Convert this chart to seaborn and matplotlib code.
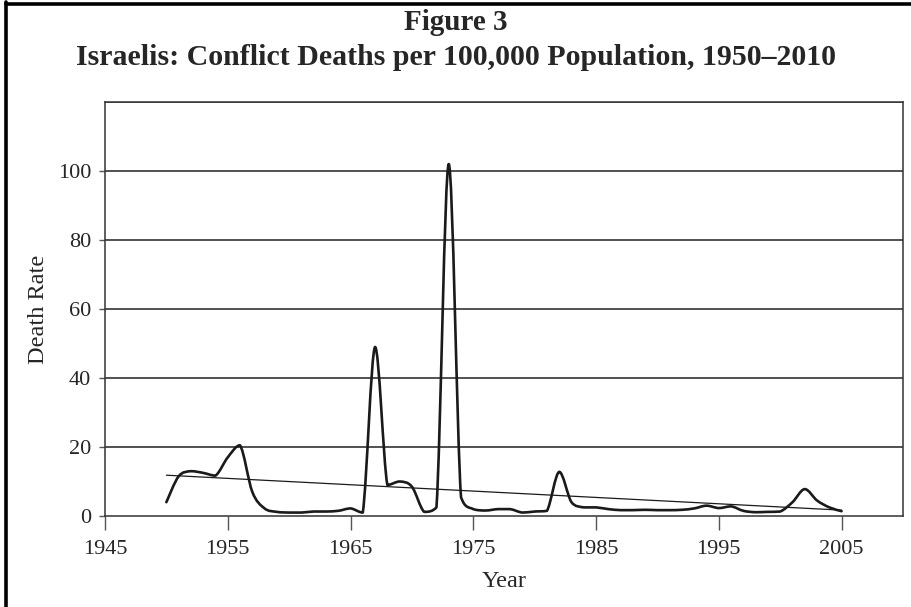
import numpy as np
import pandas as pd
import seaborn as sns
import matplotlib.pyplot as plt
from matplotlib.path import Path
from matplotlib.patches import PathPatch
from matplotlib.lines import Line2D

# annual conflict death rate per 100,000
years = list(range(1950, 2006))
death_rate = [4.0, 11.5, 13.0, 12.5, 11.7, 17.0, 20.5, 7.0, 2.2, 1.2,
              1.0, 1.0, 1.3, 1.3, 1.5, 2.2, 1.0, 49.0, 9.0, 10.0,
              8.5, 1.2, 2.5, 102.0, 5.5, 2.0, 1.6, 2.0, 2.0, 1.0,
              1.3, 1.5, 12.8, 4.0, 2.5, 2.5, 2.0, 1.7, 1.7, 1.8,
              1.7, 1.7, 1.8, 2.2, 3.0, 2.3, 2.8, 1.5, 1.1, 1.2,
              1.3, 4.0, 7.8, 4.5, 2.5, 1.4]
x_ticks = [1945, 1955, 1965, 1975, 1985, 1995, 2005]
y_ticks = [0, 20, 40, 60, 80, 100]

df = pd.DataFrame({'year': years, 'rate': death_rate})


def smooth_path(x, y):
    """Bezier path through every point (spreadsheet style smoothed line).
    Control points are kept inside each segment's y range so the
    curve does not dip under zero next to the big spikes."""
    pts = np.column_stack([x, y]).astype(float)
    verts, codes = [pts[0]], [Path.MOVETO]
    n = len(pts)
    for i in range(n - 1):
        p0 = pts[max(i - 1, 0)]
        p1, p2 = pts[i], pts[i + 1]
        p3 = pts[min(i + 2, n - 1)]
        c1 = p1 + (p2 - p0) / 6.0
        c2 = p2 - (p3 - p1) / 6.0
        lo, hi = min(p1[1], p2[1]), max(p1[1], p2[1])
        c1[1] = np.clip(c1[1], lo, hi)
        c2[1] = np.clip(c2[1], lo, hi)
        verts += [c1, c2, p2]
        codes += [Path.CURVE4] * 3
    return Path(verts, codes)


sns.set_style('white')
plt.rcParams['font.family'] = ['Liberation Serif', 'DejaVu Serif']

fig = plt.figure(figsize=(9.12, 6.07), dpi=100)
ax = fig.add_axes([0.1151, 0.1499, 0.875, 0.6821])

# trend line (least squares)
sns.regplot(x='year', y='rate', data=df, ax=ax, ci=None, scatter=False,
            line_kws={'color': '#1a1a1a', 'linewidth': 0.9})

# smoothed data line
ax.add_patch(PathPatch(smooth_path(df['year'], df['rate']), facecolor='none',
                       edgecolor='#1a1a1a', linewidth=1.9, capstyle='round',
                       joinstyle='round'))

ax.set_xlim(1945, 2010)
ax.set_ylim(0, 120)
ax.set_xticks(x_ticks)
ax.set_yticks(y_ticks)
for v in y_ticks[1:] + [120]:
    ax.axhline(v, color='#222222', linewidth=1.1, zorder=0)

ax.tick_params(axis='x', which='major', direction='out', length=10, width=1,
               color='#555555', labelsize=16, pad=7, bottom=True)
ax.tick_params(axis='y', which='major', direction='out', length=4, width=1,
               color='#555555', labelsize=16, pad=6, left=True)

for s in ax.spines.values():
    s.set_color('#333333')
    s.set_linewidth(1.1)

ax.set_xlabel('Year', fontsize=17.5, labelpad=9)
ax.set_ylabel('Death Rate', fontsize=17.5, labelpad=6)

fig.text(0.5, 0.963, 'Figure 3', ha='center', va='center', fontsize=21,
         fontweight='bold')
fig.text(0.5, 0.906, 'Israelis: Conflict Deaths per 100,000 Population, 1950\u20132010',
         ha='center', va='center', fontsize=21.5, fontweight='bold')

# page frame (left and top edges)
fig.add_artist(Line2D([0.0066, 0.0066], [0, 0.996], transform=fig.transFigure,
                      color='black', linewidth=2.6))
fig.add_artist(Line2D([0.0066, 1.0], [0.994, 0.994], transform=fig.transFigure,
                      color='black', linewidth=2.6))

fig.savefig('out.png', dpi=100)
